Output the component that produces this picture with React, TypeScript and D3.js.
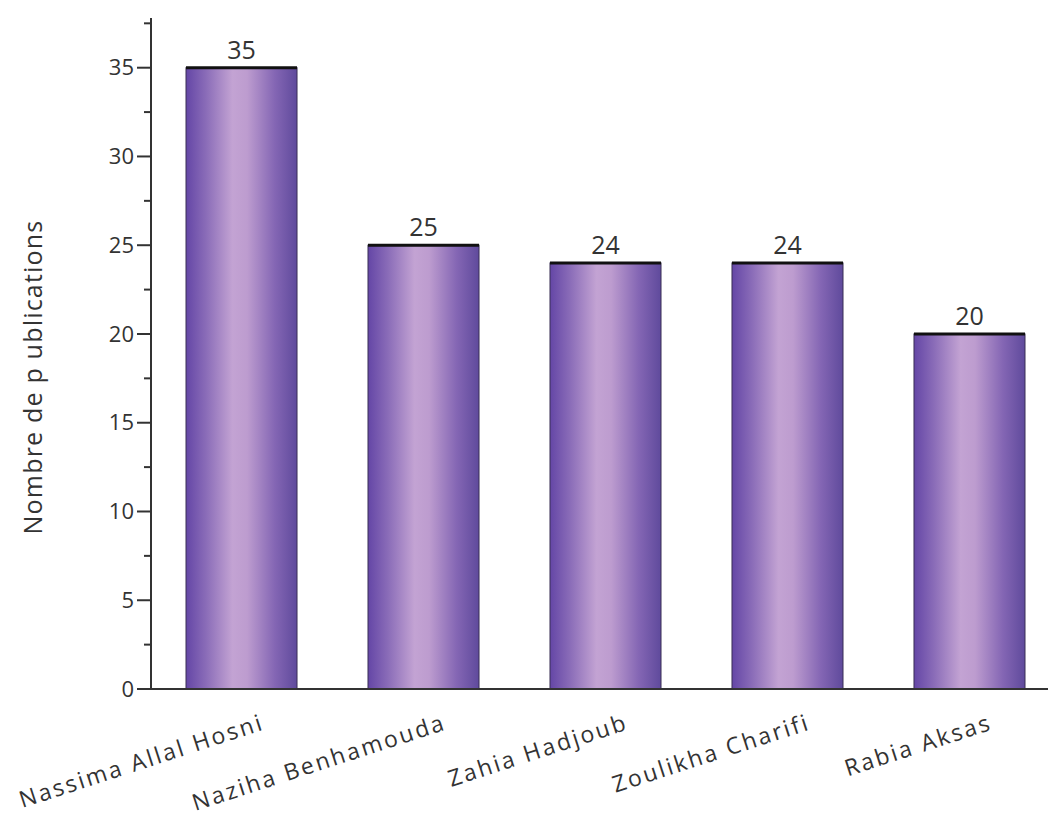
import React from "react";
import * as d3 from "d3";

const authors = ["Nassima Allal Hosni", "Naziha Benhamouda", "Zahia Hadjoub", "Zoulikha Charifi", "Rabia Aksas"];
const publications = [35, 25, 24, 24, 20];
const yTicks = [0, 5, 10, 15, 20, 25, 30, 35];
const yMinorTicks = [2.5, 7.5, 12.5, 17.5, 22.5, 27.5, 32.5, 37.5];
const yLabel = "Nombre de p ublications";

const W = 1051;
const H = 823;
const FONT = "'Open Sans', 'Liberation Sans', sans-serif";

export default function App() {
  const y = d3.scaleLinear().domain([0, 37.8]).range([689, 18]);
  const x = d3.scaleBand<string>().domain(authors).range([186, 1025]).paddingInner(0.39).paddingOuter(0);
  const axisX = 151;
  const axisColor = "#333";
  return (
    <svg width={W} height={H} style={{ position: "absolute", left: 0, top: 0, background: "#fff" }}>
      <defs>
        <linearGradient id="barGrad" x1="0" x2="1" y1="0" y2="0">
          <stop offset="0%" stopColor="#6446a6" />
          <stop offset="18%" stopColor="#8a6cb8" />
          <stop offset="42%" stopColor="#c3a3d3" />
          <stop offset="55%" stopColor="#bd9ccf" />
          <stop offset="80%" stopColor="#8466b4" />
          <stop offset="100%" stopColor="#5f4a9c" />
        </linearGradient>
      </defs>
      {authors.map((a, i) => {
        const bx = x(a)!;
        const bw = x.bandwidth();
        const top = y(publications[i]);
        const bottom = y(0);
        return (
          <g key={a}>
            <rect x={bx} y={top} width={bw} height={bottom - top} fill="url(#barGrad)" stroke="#3a2f55" strokeWidth={1} />
            <line x1={bx} x2={bx + bw} y1={top} y2={top} stroke="#111" strokeWidth={3} />
            <text x={bx + bw / 2} y={top - 9} textAnchor="middle" fontFamily={FONT} fontSize={25} fill="#333">
              {publications[i]}
            </text>
            <text
              transform={`translate(${bx + bw / 2 + 24},${729}) rotate(-18)`}
              textAnchor="end"
              fontFamily={FONT}
              fontSize={23}
              letterSpacing={2.4}
              fill="#333"
            >
              {a}
            </text>
          </g>
        );
      })}
      <line x1={137} x2={1048} y1={y(0)} y2={y(0)} stroke={axisColor} strokeWidth={2} />
      <line x1={axisX} x2={axisX} y1={y(37.8)} y2={y(0)} stroke={axisColor} strokeWidth={2} />
      {yTicks.map((t) => (
        <g key={t}>
          <line x1={axisX - 14} x2={axisX} y1={y(t)} y2={y(t)} stroke={axisColor} strokeWidth={2} />
          <text x={axisX - 17} y={y(t)} dy="0.35em" textAnchor="end" fontFamily={FONT} fontSize={22} fill="#333">
            {t}
          </text>
        </g>
      ))}
      {yMinorTicks.map((t) => (
        <line key={t} x1={axisX - 7} x2={axisX} y1={y(t)} y2={y(t)} stroke={axisColor} strokeWidth={2} />
      ))}
      <text
        transform={`translate(42,${377}) rotate(-90)`}
        textAnchor="middle"
        fontFamily={FONT}
        fontSize={25}
        letterSpacing={1.2}
        fill="#333"
      >
        {yLabel}
      </text>
    </svg>
  );
}
